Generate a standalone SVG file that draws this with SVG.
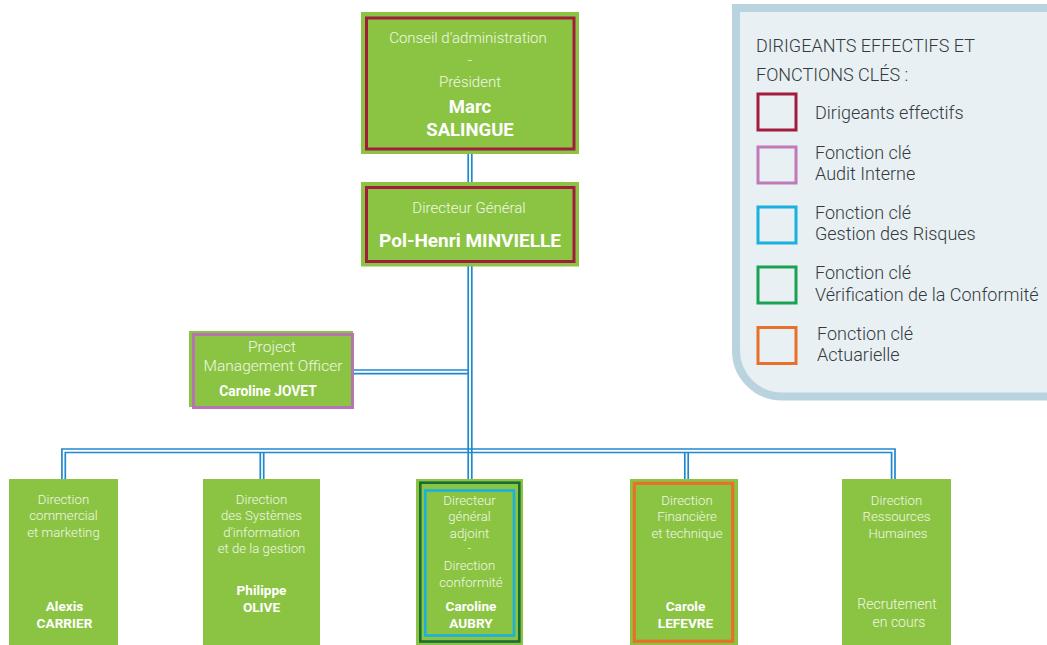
<svg xmlns="http://www.w3.org/2000/svg" width="1047" height="645" viewBox="0 0 1047 645">
<style>
.box{fill:#8bc443}
.t{font-family:Roboto,"Liberation Sans",sans-serif;fill:#f1f7e6;text-anchor:middle}
.r{font-weight:300}
.b{font-weight:700;fill:#ffffff}
.c{stroke:#1f88cf;stroke-width:1.7;fill:none}
.lg{font-family:Roboto,"Liberation Sans",sans-serif;fill:#333a3d;font-size:18px;font-weight:300}
.sq{fill:none;stroke-width:3}
</style>
<rect width="1047" height="645" fill="#ffffff"/>

<g id="legend">
  <path d="M1052,8 H736 V350 A46,46 0 0 0 782,396.5 H1052" fill="#e8f0f3" stroke="#b9d3df" stroke-width="8"/>
  <text class="lg" x="756" y="52">DIRIGEANTS EFFECTIFS ET</text>
  <text class="lg" x="756" y="81">FONCTIONS CLÉS :</text>
  <rect class="sq" x="758" y="94" width="38" height="36" stroke="#a11d3e"/>
  <text class="lg" x="815" y="119">Dirigeants effectifs</text>
  <rect class="sq" x="758" y="147" width="38" height="36" stroke="#c07ab8"/>
  <text class="lg" x="815" y="159">Fonction clé</text>
  <text class="lg" x="815" y="180">Audit Interne</text>
  <rect class="sq" x="758" y="207" width="38" height="36" stroke="#1ab0e0"/>
  <text class="lg" x="815" y="219">Fonction clé</text>
  <text class="lg" x="815" y="240">Gestion des Risques</text>
  <rect class="sq" x="758" y="267" width="38" height="36" stroke="#1aa152"/>
  <text class="lg" x="815" y="279">Fonction clé</text>
  <text class="lg" x="815" y="301" font-size="17.7">Vérification de la Conformité</text>
  <rect class="sq" x="758" y="327.5" width="38" height="36" stroke="#e8702a"/>
  <text class="lg" x="817" y="340">Fonction clé</text>
  <text class="lg" x="817" y="361">Actuarielle</text>
</g>

<g id="connectors">
  <line class="c" x1="468.2" y1="154" x2="468.2" y2="182"/>
  <line class="c" x1="471.8" y1="154" x2="471.8" y2="182"/>
  <line class="c" x1="468.2" y1="266" x2="468.2" y2="480"/>
  <line class="c" x1="471.8" y1="266" x2="471.8" y2="480"/>
  <line class="c" x1="354" y1="370" x2="468.2" y2="370"/>
  <line class="c" x1="354" y1="373.6" x2="468.2" y2="373.6"/>
  <path class="c" d="M61.9,480 V449 H895 V480"/>
  <path class="c" d="M65.3,480 V452.5 H891.6 V480"/>
  <line class="c" x1="260.3" y1="452.5" x2="260.3" y2="480"/>
  <line class="c" x1="263.7" y1="452.5" x2="263.7" y2="480"/>
  <line class="c" x1="684.8" y1="452.5" x2="684.8" y2="480"/>
  <line class="c" x1="688.2" y1="452.5" x2="688.2" y2="480"/>
</g>

<g id="president">
  <rect class="box" x="361" y="12" width="218" height="142"/>
  <rect x="366.5" y="18" width="207.5" height="131" fill="none" stroke="#a11d3e" stroke-width="3"/>
  <text class="t r" x="468" y="43" font-size="15">Conseil d’administration</text>
  <text class="t r" x="470" y="65" font-size="15">-</text>
  <text class="t r" x="470" y="87" font-size="15">Président</text>
  <text class="t b" x="470" y="113" font-size="18.5">Marc</text>
  <text class="t b" x="470" y="136" font-size="18.5">SALINGUE</text>
</g>

<g id="dg">
  <rect class="box" x="361" y="182" width="218" height="84.5"/>
  <rect x="366.5" y="187.5" width="207.5" height="74" fill="none" stroke="#a11d3e" stroke-width="3"/>
  <text class="t r" x="469" y="213" font-size="15">Directeur Général</text>
  <text class="t b" x="470" y="247" font-size="19">Pol-Henri MINVIELLE</text>
</g>

<g id="pmo">
  <rect class="box" x="189" y="331" width="164" height="76"/>
  <rect x="193.5" y="334.5" width="159" height="73" fill="none" stroke="#b873b3" stroke-width="3"/>
  <text class="t r" x="272" y="352" font-size="15.5">Project</text>
  <text class="t r" x="273" y="371" font-size="15.5">Management Officer</text>
  <text class="t b" x="268" y="396" font-size="13.8">Caroline JOVET</text>
</g>

<g id="dir-commercial">
  <rect class="box" x="9" y="479" width="109" height="166"/>
  <text class="t r" x="63.5" y="504" font-size="13.2">Direction</text>
  <text class="t r" x="63.5" y="520" font-size="13.2">commercial</text>
  <text class="t r" x="63.5" y="536.5" font-size="13.2">et marketing</text>
  <text class="t b" x="64.5" y="611" font-size="13.6">Alexis</text>
  <text class="t b" x="64.5" y="627.5" font-size="13.6">CARRIER</text>
</g>

<g id="dir-si">
  <rect class="box" x="203" y="479" width="117" height="166"/>
  <text class="t r" x="261.5" y="504" font-size="13.2">Direction</text>
  <text class="t r" x="261.5" y="520" font-size="13.2">des Systèmes</text>
  <text class="t r" x="261.5" y="536.5" font-size="13.2">d’information</text>
  <text class="t r" x="261.5" y="553" font-size="13.2">et de la gestion</text>
  <text class="t b" x="261.5" y="595" font-size="13.6">Philippe</text>
  <text class="t b" x="261.5" y="612" font-size="13.6">OLIVE</text>
</g>

<g id="dga">
  <rect class="box" x="416" y="479" width="107" height="166"/>
  <rect x="420.3" y="482.7" width="99" height="158.8" fill="none" stroke="#1b6b35" stroke-width="2.6"/>
  <rect x="425.3" y="490.5" width="88.7" height="145" fill="none" stroke="#1ab0e0" stroke-width="2.6"/>
  <text class="t r" x="469.5" y="505" font-size="13.2">Directeur</text>
  <text class="t r" x="469.5" y="521" font-size="13.2">général</text>
  <text class="t r" x="469.5" y="537.5" font-size="13.2">adjoint</text>
  <text class="t r" x="469.5" y="553" font-size="13.2">-</text>
  <text class="t r" x="469.5" y="570" font-size="13.2">Direction</text>
  <text class="t r" x="471" y="586.5" font-size="13.2">conformité</text>
  <text class="t b" x="471" y="610.5" font-size="13.6">Caroline</text>
  <text class="t b" x="471" y="627.5" font-size="13.6">AUBRY</text>
</g>

<g id="dir-financiere">
  <rect class="box" x="630" y="479" width="108" height="166"/>
  <rect x="634.3" y="483.3" width="98.4" height="158" fill="none" stroke="#e8702a" stroke-width="3.2"/>
  <text class="t r" x="687" y="505" font-size="13.2">Direction</text>
  <text class="t r" x="687" y="521" font-size="13.2">Financière</text>
  <text class="t r" x="687" y="537.5" font-size="13.2">et technique</text>
  <text class="t b" x="685.5" y="610.5" font-size="13.6">Carole</text>
  <text class="t b" x="685.5" y="627.5" font-size="13.6">LEFEVRE</text>
</g>

<g id="dir-rh">
  <rect class="box" x="842" y="479" width="109" height="166"/>
  <text class="t r" x="896.5" y="505" font-size="13.2">Direction</text>
  <text class="t r" x="896.5" y="521" font-size="13.2">Ressources</text>
  <text class="t r" x="898" y="537.5" font-size="13.2">Humaines</text>
  <text class="t r" x="897" y="609" font-size="14">Recrutement</text>
  <text class="t r" x="899" y="627" font-size="14">en cours</text>
</g>
</svg>
